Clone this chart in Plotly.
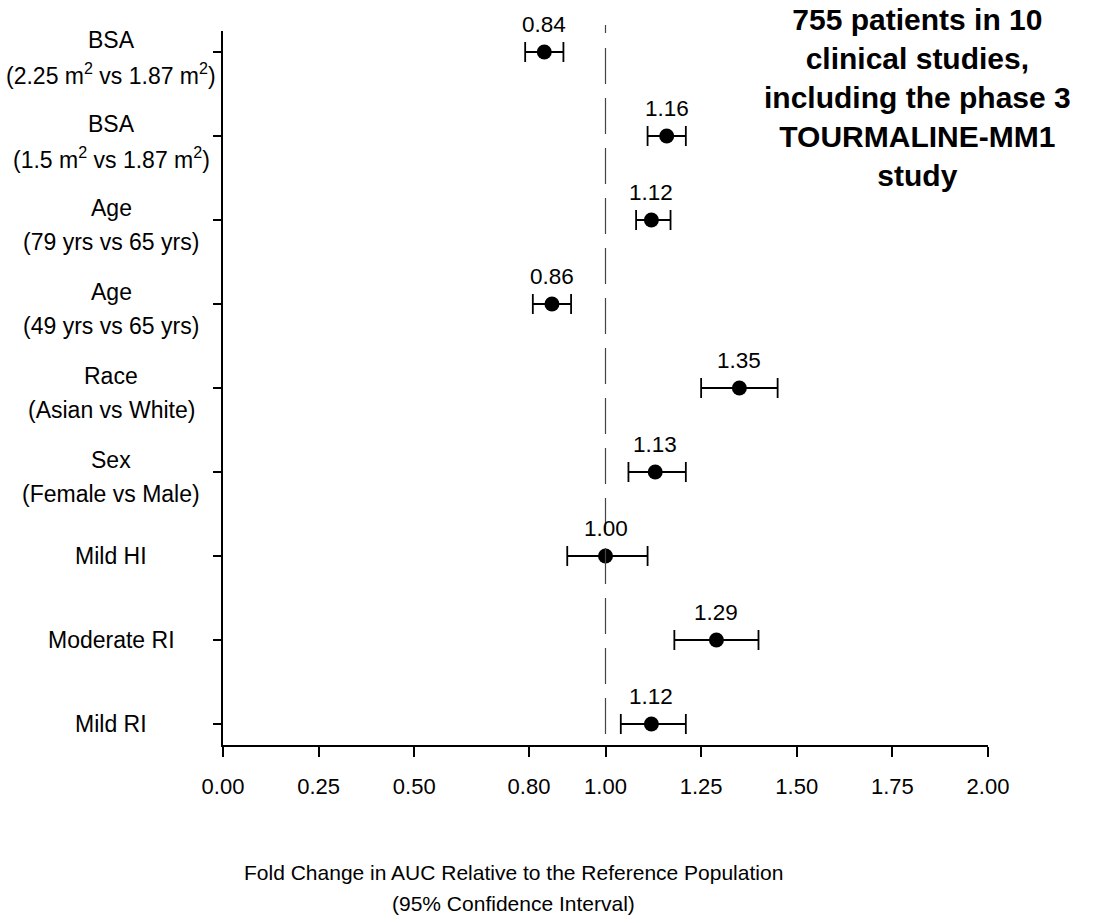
import plotly.graph_objects as go

# ---- data (top to bottom) ----
label_line1 = ["BSA", "BSA", "Age", "Age", "Race", "Sex", "Mild HI", "Moderate RI", "Mild RI"]
label_line2 = ["(2.25 m<sup>2</sup> vs 1.87 m<sup>2</sup>)",
               "(1.5 m<sup>2</sup> vs 1.87 m<sup>2</sup>)",
               "(79 yrs vs 65 yrs)", "(49 yrs vs 65 yrs)",
               "(Asian vs White)", "(Female vs Male)", "", "", ""]
estimates = [0.84, 1.16, 1.12, 0.86, 1.35, 1.13, 1.00, 1.29, 1.12]
lower_ci = [0.79, 1.11, 1.08, 0.81, 1.25, 1.06, 0.90, 1.18, 1.04]
upper_ci = [0.89, 1.21, 1.17, 0.91, 1.45, 1.21, 1.11, 1.40, 1.21]
est_text = ["0.84", "1.16", "1.12", "0.86", "1.35", "1.13", "1.00", "1.29", "1.12"]
x_tickvals = [0.00, 0.25, 0.50, 0.80, 1.00, 1.25, 1.50, 1.75, 2.00]
x_ticktext = ["0.00", "0.25", "0.50", "0.80", "1.00", "1.25", "1.50", "1.75", "2.00"]
reference_value = 1.0
note_text = ("755 patients in 10<br>clinical studies,<br>including the phase 3"
             "<br>TOURMALINE-MM1<br>study")
x_title_lines = ["Fold Change in AUC Relative to the Reference Population",
                 "(95% Confidence Interval)"]

n = len(estimates)
ypos = list(range(n, 0, -1))  # 9 (top) .. 1 (bottom)

FONT = "Liberation Sans, Arial, sans-serif"

fig = go.Figure()

# reference line (dashed) at 1.0
fig.add_shape(type="line", xref="x", yref="paper", x0=reference_value, x1=reference_value,
              y0=(745 - 25) / 714, y1=(745 - 33) / 714,
              line=dict(color="#444444", width=1.2))
fig.add_shape(type="line", xref="x", yref="paper", x0=reference_value, x1=reference_value,
              y0=(745 - 48) / 714, y1=(745 - 738) / 714,
              line=dict(color="#444444", width=1.2, dash="36px,14px"))

fig.add_trace(go.Scatter(
    x=estimates, y=ypos, mode="markers",
    marker=dict(symbol="circle", size=15, color="black"),
    error_x=dict(type="data", symmetric=False,
                 array=[u - e for u, e in zip(upper_ci, estimates)],
                 arrayminus=[e - l for e, l in zip(estimates, lower_ci)],
                 color="black", thickness=1.8, width=10),
    cliponaxis=False, showlegend=False, hoverinfo="skip"))

LABEL_X = (111 - 223) / 765
LABEL_SIZE = 23
annotations = []
for i in range(n):
    annotations.append(dict(x=estimates[i], y=ypos[i], xref="x", yref="y",
                            text=est_text[i], showarrow=False, yshift=28,
                            font=dict(family=FONT, size=22.5, color="black")))
    if label_line2[i]:
        annotations.append(dict(x=LABEL_X, y=ypos[i], xref="paper", yref="y",
                                text=label_line1[i], showarrow=False, yshift=12.5,
                                xanchor="center", yanchor="middle",
                                font=dict(family=FONT, size=LABEL_SIZE, color="black")))
        annotations.append(dict(x=LABEL_X, y=ypos[i], xref="paper", yref="y",
                                text=label_line2[i], showarrow=False, yshift=-22,
                                xanchor="center", yanchor="middle",
                                font=dict(family=FONT, size=LABEL_SIZE, color="black")))
    else:
        annotations.append(dict(x=LABEL_X, y=ypos[i], xref="paper", yref="y",
                                text=label_line1[i], showarrow=False,
                                xanchor="center", yanchor="middle",
                                font=dict(family=FONT, size=LABEL_SIZE, color="black")))

annotations.append(dict(x=(917 - 223) / 765, y=(745 - 97) / 714, xref="paper", yref="paper",
                        text="<b>" + note_text + "</b>", showarrow=False,
                        xanchor="center", yanchor="middle", align="center",
                        font=dict(family=FONT, size=30, color="black")))
for k, line in enumerate(x_title_lines):
    annotations.append(dict(x=(513 - 223) / 765, y=(745 - (872 + 31 * k)) / 714,
                            xref="paper", yref="paper",
                            text=line, showarrow=False,
                            xanchor="center", yanchor="middle", align="center",
                            font=dict(family=FONT, size=21, color="black")))

fig.update_layout(
    width=1097, height=923,
    margin=dict(l=223, r=109, t=31, b=178, pad=0),
    paper_bgcolor="white", plot_bgcolor="white",
    annotations=annotations,
    xaxis=dict(range=[0, 2], tickmode="array", tickvals=x_tickvals, ticktext=x_ticktext,
               showgrid=False, zeroline=False, showline=True, linecolor="black", linewidth=1.8,
               ticks="outside", ticklen=10, tickwidth=1.6, tickcolor="black",
               ticklabelstandoff=11,
               tickfont=dict(family=FONT, size=22, color="black")),
    yaxis=dict(range=[0.75, 9.25], tickmode="array", tickvals=ypos, showticklabels=False,
               showgrid=False, zeroline=False, showline=True, linecolor="black", linewidth=1.8,
               ticks="outside", ticklen=8, tickwidth=1.6, tickcolor="black"),
)

fig.write_html("out.html")
